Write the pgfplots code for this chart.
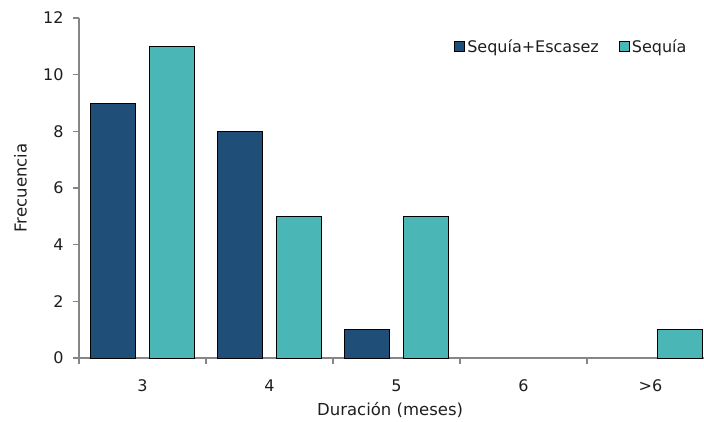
\documentclass[border=0pt]{standalone}
\usepackage{fontspec}
\setmainfont{DejaVu Sans}
\usepackage{pgfplots}
\pgfplotsset{compat=1.18}
\definecolor{darkblue}{RGB}{31,78,121}
\definecolor{tealc}{RGB}{75,182,182}
\definecolor{axgray}{RGB}{134,134,134}
\definecolor{txt}{RGB}{30,30,30}
\begin{document}
\begin{tikzpicture}
\begin{axis}[
  scale only axis, width=635pt, height=340pt,
  at={(0,0)}, anchor=south west,
  xmin=-0.5, xmax=4.5, ymin=0, ymax=12,
  axis x line*=bottom, axis y line*=left,
  axis line style={axgray, line width=1.2pt, -},
  xtick={0,1,2,3,4}, xticklabels={3,4,5,6,{>6}},
  major x tick style={draw=none},
  minor xtick={-0.5,0.5,1.5,2.5,3.5,4.5},
  ytick={0,2,...,12},
  tick align=outside,
  major tick length=6pt, minor tick length=6pt,
  tick style={axgray, line width=1.2pt},
  font=\fontsize{16}{19}\selectfont,
  tick label style={font=\fontsize{16}{19}\selectfont, text=txt},
  xticklabel style={yshift=-12pt},
  yticklabel style={xshift=-6pt},
  /pgf/number format/assume math mode=true,
  xlabel={Duración (meses)}, ylabel={Frecuencia},
  label style={font=\fontsize{16.5}{19}\selectfont, text=txt},
  x label style={at={(axis description cs:0.49,-0.153)}, anchor=center},
  y label style={at={(axis description cs:-0.092,0.5)}, anchor=center, rotate=0},
  ybar=14pt, bar width=45pt,
  legend style={draw=none, fill=none, inner sep=0pt,
    at={(axis description cs:0.96,0.915)}, anchor=east,
    font=\fontsize{16}{19}\selectfont, text=txt,
    /tikz/every even column/.append style={column sep=18pt}},
  legend columns=2, legend cell align=left,
  legend image code/.code={\draw[#1] (0pt,-5pt) rectangle (10pt,5pt);},
]
\addplot[fill=darkblue, draw=black, line width=1pt] coordinates {(0,9) (1,8) (2,1)};
\addplot[fill=tealc, draw=black, line width=1pt] coordinates {(0,11) (1,5) (2,5) (4,1)};
\legend{Sequía+Escasez, Sequía}
\end{axis}
\pgfresetboundingbox
\path (-79pt,-63pt) rectangle (625pt,358pt);
\end{tikzpicture}
\end{document}
